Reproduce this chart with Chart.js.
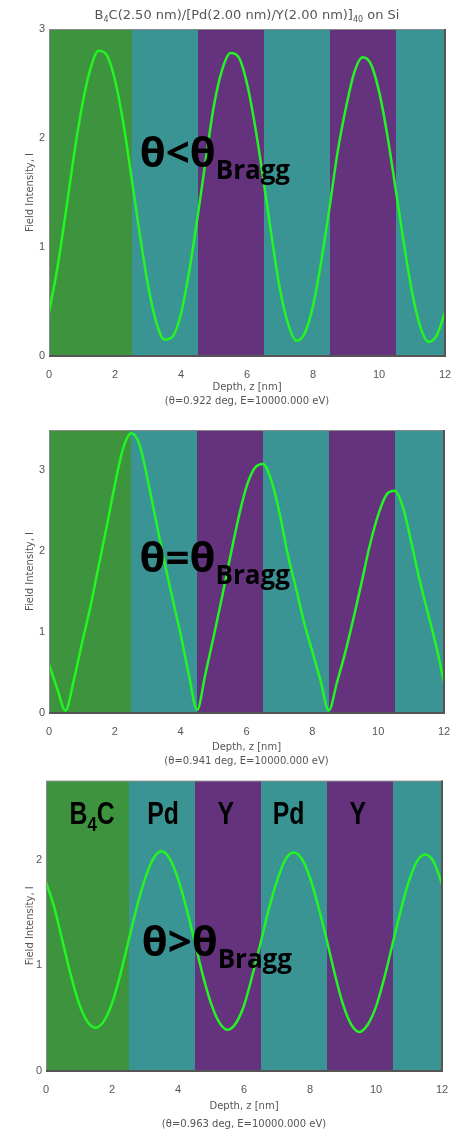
<!DOCTYPE html>
<html>
<head>
<meta charset="utf-8">
<script src="https://cdn.jsdelivr.net/npm/chart.js@4.4.1/dist/chart.umd.min.js"></script>
<style>
  body { margin: 0; background: #fff; width: 467px; height: 1135px; overflow: hidden; position: relative; }
  canvas { position: absolute; left: 0; }
</style>
</head>
<body>
<canvas id="c1" width="467" height="410" style="top:0px"></canvas>
<canvas id="c2" width="467" height="360" style="top:410px"></canvas>
<canvas id="c3" width="467" height="365" style="top:770px"></canvas>
<script>
// depth grid, nm
const depth = [0, 0.25, 0.5, 0.75, 1, 1.25, 1.5, 1.75, 2, 2.25, 2.5, 2.75, 3, 3.25, 3.5, 3.75,
  4, 4.25, 4.5, 4.75, 5, 5.25, 5.5, 5.75, 6, 6.25, 6.5, 6.75, 7, 7.25, 7.5, 7.75,
  8, 8.25, 8.5, 8.75, 9, 9.25, 9.5, 9.75, 10, 10.25, 10.5, 10.75, 11, 11.25, 11.5, 11.75, 12];

// field intensity
const intensityBelow = [0.40, 0.80, 1.30, 1.83, 2.29, 2.63, 2.80, 2.76, 2.53, 2.14, 1.64, 1.12, 0.65, 0.31, 0.15, 0.18,
  0.39, 0.78, 1.27, 1.80, 2.30, 2.63, 2.78, 2.74, 2.50, 2.10, 1.61, 1.09, 0.61, 0.29, 0.14, 0.21,
  0.46, 0.87, 1.36, 1.88, 2.28, 2.60, 2.74, 2.68, 2.43, 2.03, 1.54, 1.04, 0.59, 0.27, 0.13, 0.19, 0.40];
const intensityBragg = [0.60, 0.30, 0.03, 0.40, 0.86, 1.30, 1.80, 2.30, 2.82, 3.27, 3.46, 3.32, 2.88, 2.38, 1.88, 1.42,
  0.97, 0.47, 0.04, 0.48, 0.94, 1.42, 1.92, 2.40, 2.80, 3.03, 3.08, 2.88, 2.48, 1.97, 1.55, 1.12,
  0.76, 0.40, 0.03, 0.38, 0.75, 1.17, 1.62, 2.08, 2.45, 2.70, 2.75, 2.55, 2.12, 1.66, 1.25, 0.85, 0.38];
const intensityAbove = [1.79, 1.55, 1.23, 0.91, 0.64, 0.47, 0.41, 0.47, 0.64, 0.91, 1.23, 1.55, 1.82, 2.01, 2.08, 2.01,
  1.82, 1.55, 1.23, 0.91, 0.64, 0.46, 0.39, 0.45, 0.62, 0.90, 1.21, 1.53, 1.80, 2.00, 2.07, 2.01,
  1.83, 1.56, 1.25, 0.92, 0.63, 0.44, 0.37, 0.44, 0.61, 0.88, 1.20, 1.52, 1.80, 1.99, 2.05, 1.98, 1.77];

const xTicks = [0, 2, 4, 6, 8, 10, 12];
const yMax = [3, 3.5, 2.75];
const thetaDeg = ['0.922', '0.941', '0.963'];
const relation = ['<', '=', '>'];

// multilayer stack
const layerStart = [0, 2.5, 4.5, 6.5, 8.5, 10.5];
const layerEnd = [2.5, 4.5, 6.5, 8.5, 10.5, 12];
const layerMaterial = ['B4C', 'Pd', 'Y', 'Pd', 'Y', 'Pd'];
const labelCenter = [1.4, 3.55, 5.45, 7.35, 9.45];

const materialColor = { B4C: '#3e943e', Pd: '#3b9494', Y: '#65337e' };
const curveColor = '#22f522';
const textGray = '#555';

// draw text with a subscript part, returns end x
function drawSub(ctx, x, y, main, sub, mainFont, subFont, drop) {
    ctx.font = mainFont;
    ctx.fillText(main, x, y);
    x += ctx.measureText(main).width;
    if (sub) {
        ctx.font = subFont;
        ctx.fillText(sub, x, y + drop);
        x += ctx.measureText(sub).width;
    }
    return x;
}

const layersPlugin = {
    id: 'layers',
    beforeDatasetsDraw(chart) {
        const { ctx, chartArea: a, scales: { x } } = chart;
        ctx.save();
        layerStart.forEach((s, i) => {
            const x0 = Math.round(x.getPixelForValue(s));
            const x1 = Math.round(x.getPixelForValue(layerEnd[i]));
            ctx.fillStyle = materialColor[layerMaterial[i]];
            ctx.fillRect(x0, Math.round(a.top), x1 - x0, Math.round(a.bottom - a.top));
        });
        ctx.restore();
    },
    afterDatasetsDraw(chart) {
        const { ctx, chartArea: a } = chart;
        ctx.save();
        ctx.strokeStyle = '#8a8a8a';
        ctx.lineWidth = 1;
        ctx.strokeRect(a.left + 0.5, a.top + 0.5, a.right - a.left - 1, a.bottom - a.top - 1);
        ctx.strokeStyle = '#555';
        ctx.lineWidth = 2;
        ctx.beginPath();
        ctx.moveTo(a.left, a.bottom);
        ctx.lineTo(a.right, a.bottom);
        ctx.lineTo(a.right, a.top);
        ctx.stroke();
        ctx.restore();
    }
};

const notesPlugin = {
    id: 'notes',
    afterDatasetsDraw(chart, args, opts) {
        const { ctx, scales: { x, y } } = chart;
        ctx.save();
        ctx.fillStyle = '#000';
        ctx.textBaseline = 'alphabetic';
        ctx.textAlign = 'left';
        // theta relation
        drawSub(ctx, x.getPixelForValue(opts.relX), y.getPixelForValue(opts.relY),
            'θ' + opts.rel + 'θ', 'Bragg', 'bold 42px "Open Sans"', 'bold 26px "Open Sans"', 12);
        // material labels, squeezed to a narrow face
        if (opts.materials) {
            const sx = 0.8;
            const f1 = 'bold 31px "Liberation Sans"';
            const f2 = 'bold 21px "Liberation Sans"';
            labelCenter.forEach((c, i) => {
                const m = layerMaterial[i];
                const main = m === 'B4C' ? 'B' : m;
                const rest = m === 'B4C' ? 'C' : '';
                ctx.font = f1;
                let w = ctx.measureText(main).width + ctx.measureText(rest).width;
                if (m === 'B4C') { ctx.font = f2; w += ctx.measureText('4').width; }
                const cx = x.getPixelForValue(c);
                const py = y.getPixelForValue(opts.labelY);
                ctx.save();
                ctx.translate(cx, py);
                ctx.scale(sx, 1);
                let px = -w / 2;
                if (m === 'B4C') {
                    px = drawSub(ctx, px, 0, main, '4', f1, f2, 7);
                    ctx.font = f1;
                    ctx.fillText(rest, px, 0);
                } else {
                    drawSub(ctx, px, 0, main, '', f1, f2, 0);
                }
                ctx.restore();
            });
        }
        // panel title
        if (opts.title) {
            const mf = '13px "DejaVu Sans"';
            const sf = '8px "DejaVu Sans"';
            const parts = [['B', '4'], ['C(2.50 nm)/[Pd(2.00 nm)/Y(2.00 nm)]', '40'], [' on Si', '']];
            let w = 0;
            parts.forEach(p => {
                ctx.font = mf; w += ctx.measureText(p[0]).width;
                ctx.font = sf; w += ctx.measureText(p[1]).width;
            });
            let px = (chart.chartArea.left + chart.chartArea.right) / 2 - w / 2;
            ctx.fillStyle = textGray;
            parts.forEach(p => { px = drawSub(ctx, px, 19, p[0], p[1], mf, sf, 3); });
        }
        ctx.restore();
    }
};

const panels = [
    { id: 'c1', data: intensityBelow, top: 29, left: 49, right: 445, xAxisH: 54, lh: 14, relX: 2.75, relY: 1.73 },
    { id: 'c2', data: intensityBragg, top: 20, left: 49, right: 444, xAxisH: 57, lh: 14, relX: 2.75, relY: 1.74 },
    { id: 'c3', data: intensityAbove, top: 9, left: 46, right: 442, xAxisH: 64, lh: 18, relX: 2.9, relY: 1.09 }
];

panels.forEach((p, i) => {
    new Chart(document.getElementById(p.id), {
        type: 'line',
        data: {
            labels: depth,
            datasets: [{
                data: depth.map((d, k) => ({ x: d, y: p.data[k] })),
                borderColor: curveColor,
                borderWidth: 2.5,
                pointRadius: 0,
                cubicInterpolationMode: 'monotone',
                fill: false
            }]
        },
        options: {
            responsive: false,
            animation: false,
            layout: { padding: { top: p.top, left: 0, right: 467 - p.right, bottom: 0 } },
            plugins: {
                legend: { display: false },
                tooltip: { enabled: false },
                notes: { rel: relation[i], relX: p.relX, relY: p.relY, materials: i === 2, labelY: 2.34, title: i === 0 }
            },
            scales: {
                x: {
                    type: 'linear', min: 0, max: 12,
                    afterBuildTicks: s => { s.ticks = xTicks.map(v => ({ value: v })); },
                    afterFit: s => { s.height = p.xAxisH; },
                    grid: { display: false, drawTicks: false },
                    border: { display: false },
                    ticks: { color: textGray, font: { family: 'Liberation Sans', size: 11 }, padding: 12, maxRotation: 0 },
                    title: {
                        display: true,
                        text: ['Depth, z [nm]', '(θ=' + thetaDeg[i] + ' deg, E=10000.000 eV)'],
                        color: textGray,
                        font: { family: 'DejaVu Sans', size: 10, lineHeight: p.lh + 'px' },
                        padding: { top: 0, bottom: 2 }
                    }
                },
                y: {
                    min: 0, max: yMax[i],
                    afterFit: s => { s.width = p.left; },
                    grid: { display: false, drawTicks: false },
                    border: { display: false },
                    ticks: { stepSize: 1, includeBounds: false, color: textGray, font: { family: 'Liberation Sans', size: 11 }, padding: 4 },
                    title: {
                        display: true,
                        text: 'Field Intensity, I',
                        color: textGray,
                        font: { family: 'DejaVu Sans', size: 10, lineHeight: '14px' },
                        padding: { top: 23, bottom: 0 }
                    }
                }
            }
        },
        plugins: [layersPlugin, notesPlugin]
    });
});
</script>
</body>
</html>
